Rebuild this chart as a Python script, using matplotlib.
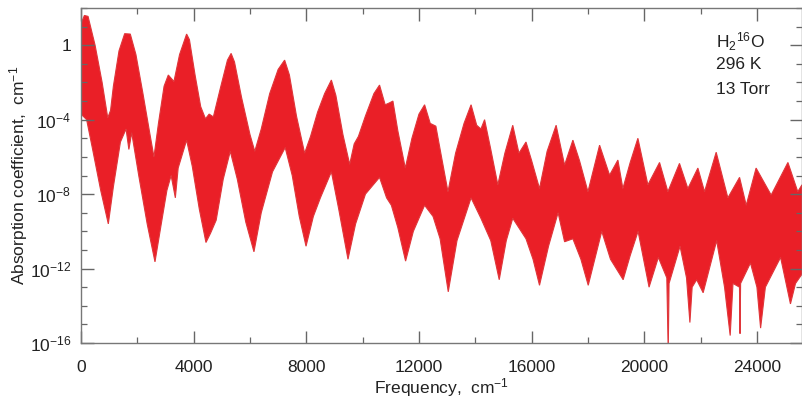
import matplotlib
matplotlib.use("Agg")
import matplotlib.pyplot as plt
from matplotlib.ticker import FixedLocator, FuncFormatter, NullFormatter
import numpy as np

#DATA (exponents)
upperFreq = [0, 120, 250, 500, 750, 950, 1050, 1150, 1350, 1550, 1750, 1950, 2200, 2450, 2590, 2750, 2950, 3100, 3300, 3500,
             3750, 3850, 4050, 4250, 4420, 4550, 4700, 4950, 5200, 5330, 5450, 5700, 6000, 6170, 6400, 6700, 7000, 7230, 7400, 7650,
             7940, 8150, 8400, 8650, 8890, 9050, 9300, 9540, 9700, 9850, 10100, 10400, 10600, 10800, 10950, 11075, 11250, 11515, 11750, 12000,
             12200, 12400, 12600, 12800, 13030, 13300, 13600, 13850, 14050, 14200, 14330, 14550, 14800, 15050, 15330, 15550, 15800, 16000, 16280, 16550,
             16870, 17170, 17465, 17700, 18000, 18413, 18768, 19063, 19240, 19500, 19773, 20128, 20542, 20838, 21250, 21548, 21903, 22140, 22553, 22968,
             23383, 23620, 23970, 24505, 25100, 25450, 25600]
upperExp = [1.15, 1.6, 1.55, 0.0, -2.0, -3.9, -3.5, -2.2, -0.3, 0.62, 0.6, -0.5, -2.6, -4.8, -6.0, -4.2, -2.2, -1.6, -1.95, -0.5,
            0.6, 0.3, -1.6, -3.3, -3.95, -3.7, -3.85, -2.3, -0.8, -0.44, -0.9, -2.8, -4.8, -5.7, -4.5, -2.6, -1.3, -0.8, -1.6, -3.8,
            -5.8, -4.9, -3.6, -2.6, -1.87, -2.7, -4.8, -6.4, -5.3, -4.9, -3.8, -2.6, -2.14, -3.2, -3.1, -3.0, -4.6, -6.6, -5.0, -3.7,
            -3.2, -4.2, -4.35, -6.0, -7.87, -5.8, -4.2, -3.2, -4.3, -4.5, -4.0, -5.6, -7.5, -5.8, -4.3, -5.8, -5.2, -6.2, -7.7, -5.7,
            -4.3, -6.44, -5.1, -6.2, -7.87, -5.37, -6.98, -6.17, -7.7, -6.3, -5.0, -7.5, -6.3, -7.87, -6.35, -7.7, -6.6, -7.87, -5.75, -8.2,
            -7.1, -8.6, -6.6, -8.05, -6.3, -7.87, -7.5]

lowerFreq = [0, 200, 400, 700, 970, 1150, 1400, 1600, 1700, 1800, 2050, 2350, 2627, 2850, 3050, 3200, 3350, 3450, 3750, 3950,
             4200, 4437, 4600, 4800, 5050, 5300, 5550, 5850, 6141, 6400, 6800, 7250, 7500, 7750, 7990, 8250, 8500, 8890, 9150, 9480,
             9750, 10100, 10600, 10850, 11020, 11250, 11525, 11800, 12200, 12500, 12750, 13040, 13350, 13850, 14200, 14550, 14850, 15100, 15330, 15800,
             16050, 16280, 16600, 16940, 17170, 17465, 17750, 18010, 18490, 18800, 19250, 19500, 19780, 20170, 20500, 20800, 20850, 20880, 21270, 21500,
             21620, 21700, 21860, 22090, 22570, 22850, 23050, 23150, 23380, 23400, 23420, 23770, 24000, 24130, 24300, 24840, 25190, 25370, 25600]
lowerExp = [-3.7, -4.0, -5.5, -7.8, -9.6, -7.6, -5.2, -4.5, -5.6, -4.7, -7.0, -9.6, -11.64, -9.6, -7.8, -7.0, -8.2, -6.6, -5.1, -6.5,
            -8.8, -10.6, -10.1, -9.4, -7.2, -5.7, -7.2, -9.5, -11.1, -9.0, -6.8, -5.5, -7.0, -9.2, -10.8, -9.2, -8.2, -6.8, -8.8, -11.5,
            -9.6, -8.0, -7.1, -8.2, -8.6, -9.8, -11.6, -10.0, -8.6, -9.2, -10.4, -13.25, -10.5, -8.2, -9.3, -10.5, -12.6, -10.5, -9.3, -10.4,
            -11.5, -12.9, -10.8, -9.0, -10.56, -10.4, -11.5, -12.9, -10.0, -11.5, -12.6, -11.3, -10.0, -13.0, -11.4, -12.5, -16.5, -12.8, -10.8, -12.5,
            -14.9, -13.0, -12.6, -13.3, -10.5, -13.0, -15.6, -12.8, -13.0, -15.5, -12.8, -11.7, -13.0, -15.2, -13.0, -11.4, -13.9, -12.8, -12.3]

majorY = [1e0, 1e-4, 1e-8, 1e-12, 1e-16]
majorX = [0, 4000, 8000, 12000, 16000, 20000, 24000]

plt.rcParams["font.family"] = ["Liberation Sans", "DejaVu Sans"]
plt.rcParams["mathtext.default"] = "regular"

fig = plt.figure(figsize=(8.03, 4.04), dpi=100)
ax = fig.add_axes([81/803, 61/404, 721/803, 335/404])

#spectrum band: upper edge left to right, lower edge back
polyX = list(upperFreq) + list(lowerFreq[::-1])
polyY = [10**e for e in upperExp] + [10**e for e in lowerExp[::-1]]
ax.fill(polyX, polyY, facecolor="#ea1f27", edgecolor="#e0363a", linewidth=0.8)

ax.set_yscale("log")
ax.set_ylim(1e-16, 1e2)
ax.set_xlim(0, 25600)

ax.yaxis.set_major_locator(FixedLocator(majorY))
ax.yaxis.set_minor_locator(FixedLocator([10.0**k for k in range(-16, 3) if k % 4 != 0]))
ax.yaxis.set_major_formatter(FuncFormatter(lambda v, p: "1" if abs(v - 1) < 1e-9 else "10$^{%d}$" % round(np.log10(v))))
ax.yaxis.set_minor_formatter(NullFormatter())
ax.xaxis.set_major_locator(FixedLocator(majorX))
ax.xaxis.set_minor_locator(FixedLocator(list(range(2000, 26000, 4000))))

for side in ax.spines:
    ax.spines[side].set_color("#777777")
    ax.spines[side].set_linewidth(1.0)

ax.tick_params(which="both", direction="in", top=True, right=True, color="#666666", labelcolor="#222222", labelsize=12.5)
ax.tick_params(which="major", length=9, width=1.0)
ax.tick_params(which="minor", length=4.5, width=0.9)
ax.tick_params(axis="x", which="major", pad=12)
ax.tick_params(axis="y", which="major", pad=7)

ax.set_xlabel("Frequency,  cm$^{-1}$", fontsize=12.5, color="#222222", labelpad=1)
ax.set_ylabel("Absorption coefficient,  cm$^{-1}$", fontsize=12.5, color="#222222", labelpad=0)

ax.text(0.881, 0.9, "H$_2$$^{16}$O", transform=ax.transAxes, fontsize=12.5, color="#222222", va="center")
ax.text(0.881, 0.83, "296 K", transform=ax.transAxes, fontsize=12.5, color="#222222", va="center")
ax.text(0.881, 0.758, "13 Torr", transform=ax.transAxes, fontsize=12.5, color="#222222", va="center")

fig.savefig("out.png", dpi=100)
